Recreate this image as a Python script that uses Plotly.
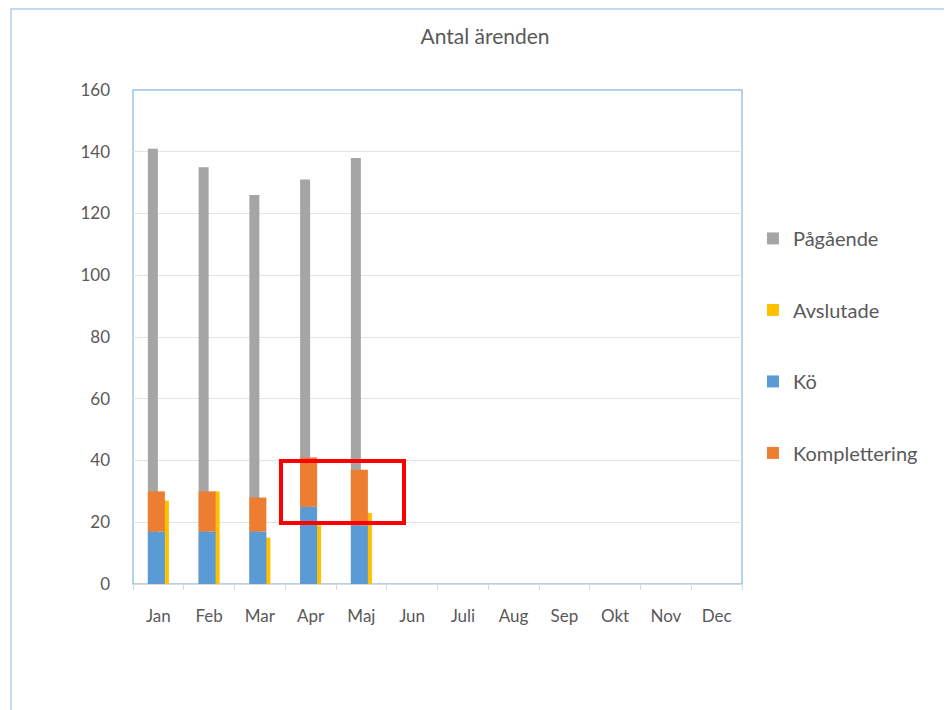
import plotly.graph_objects as go

months = ["Jan", "Feb", "Mar", "Apr", "Maj", "Jun", "Juli", "Aug", "Sep", "Okt", "Nov", "Dec"]
pagaende = [141, 135, 126, 131, 138, None, None, None, None, None, None, None]
avslutade = [27, 30, 15, 19, 23, None, None, None, None, None, None, None]
ko = [17, 17, 17, 25, 19, None, None, None, None, None, None, None]
komplettering = [13, 13, 11, 16, 18, None, None, None, None, None, None, None]

GRAY = "#a5a5a5"
YELLOW = "#ffc000"
BLUE = "#5b9bd5"
ORANGE = "#ed7d31"
TXT = "#595959"
FONT = "Lato"

fig = go.Figure()
fig.add_trace(go.Bar(x=months, y=pagaende, name="Pågående", marker_color=GRAY,
                     offset=-0.207, width=0.197, legendgroup="a"))
fig.add_trace(go.Bar(x=months, y=avslutade, name="Avslutade", marker_color=YELLOW,
                     offset=0.089, width=0.118, legendgroup="b"))
fig.add_trace(go.Bar(x=months, y=ko, name="Kö", marker_color=BLUE,
                     offset=-0.207, width=0.335, legendgroup="c"))
fig.add_trace(go.Bar(x=months, y=komplettering, base=ko, name="Komplettering", marker_color=ORANGE,
                     offset=-0.207, width=0.335, legendgroup="d"))

fig.update_traces(marker_line_width=0)

W, H = 944, 702
L, T, PW, PH = 125, 82, 609, 494

fig.update_layout(
    width=W, height=H,
    barmode="overlay",
    paper_bgcolor="white", plot_bgcolor="white",
    margin=dict(l=L, r=W - L - PW, t=T, b=H - T - PH),
    font=dict(family=FONT, color=TXT, size=16),
    title=dict(text="Antal ärenden", x=477 / W, xanchor="center", y=1 - 29 / H, yanchor="middle",
               font=dict(size=21, color=TXT, family=FONT)),
    legend=dict(x=1.018, xanchor="left", y=0.739, yanchor="top", traceorder="grouped",
                tracegroupgap=42.5, itemwidth=30, font=dict(size=20, color=TXT, family=FONT),
                bgcolor="rgba(0,0,0,0)"),
    showlegend=True,
    xaxis=dict(type="category", categoryorder="array", categoryarray=months,
               range=[-0.5, 11.5], showline=True, linecolor="#d9d9d9", linewidth=1,
               ticks="outside", tickson="boundaries", ticklen=5, tickcolor="#d9d9d9",
               ticklabelstandoff=17, showgrid=False, tickfont=dict(size=17, color=TXT)),
    yaxis=dict(range=[0, 160], dtick=20, showgrid=True, gridcolor="#e3e3e3", gridwidth=1,
               showline=False, zeroline=False, ticks="", ticklabelstandoff=22,
               tickfont=dict(size=17, color=TXT)),
    shapes=[
        dict(type="rect", xref="paper", yref="paper", x0=0, x1=1, y0=0, y1=1,
             line=dict(color="#9dc3e6", width=1.5), layer="below"),
        dict(type="rect", xref="paper", yref="paper", x0=(3 - L) / PW, x1=2.0,
             y0=-1.0, y1=(T + PH - 1) / PH, line=dict(color="#c5d9f1", width=2), layer="below"),
        dict(type="rect", xref="paper", yref="paper", x0=(281 - 133) / PW, x1=(404 - 133) / PW,
             y0=(584 - 523) / PH, y1=(584 - 461) / PH, line=dict(color="#ff0000", width=4),
             layer="above"),
    ],
)

fig.write_html("out.html")
